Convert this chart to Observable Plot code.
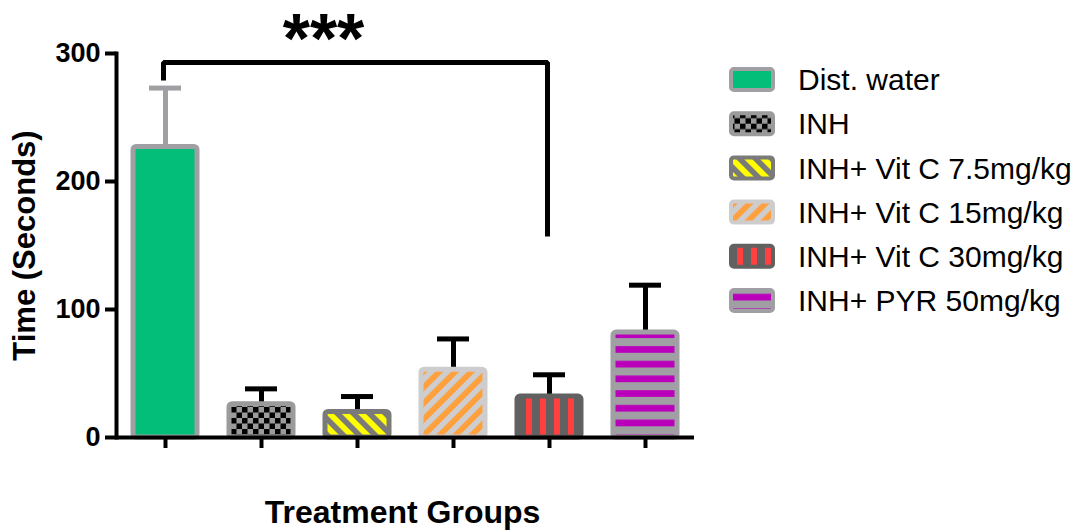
<!DOCTYPE html>
<html>
<head>
<meta charset="utf-8">
<script src="https://cdn.jsdelivr.net/npm/d3@7"></script>
<script src="https://cdn.jsdelivr.net/npm/@observablehq/plot@0.6"></script>
<style>
  body { margin: 0; background: #fff; }
  #wrap { position: relative; width: 1089px; height: 532px; font-family: "Liberation Sans", Arial, sans-serif; }
  #legend { position: absolute; left: 0; top: 0; pointer-events: none; }
  #defs { position: absolute; width: 0; height: 0; }
</style>
</head>
<body>
<div id="wrap">
  <svg id="defs" width="0" height="0"><defs></defs></svg>
  <div id="chart"></div>
  <svg id="legend" width="1089" height="532"></svg>
</div>
<script>
// Treatment groups and measured times (mean and SEM, seconds)
const groups = [
  "Dist. water",
  "INH",
  "INH+ Vit C 7.5mg/kg",
  "INH+ Vit C 15mg/kg",
  "INH+ Vit C 30mg/kg",
  "INH+ PYR 50mg/kg"
];
const means = [227, 26, 20, 53, 32, 82];
const sems = [46, 12, 12, 24, 17, 37];
const yTicks = [0, 100, 200, 300];

// Significance bracket between Dist. water and INH+ Vit C 30mg/kg
const significance = "***";
const bracket = [
  {group: groups[0], y: 279},
  {group: groups[0], y: 293},
  {group: groups[4], y: 293},
  {group: groups[4], y: 157}
];

// Fill patterns for each group
const looks = [
  {id: "pat-water", kind: "solid",   base: "#02BE78", ink: null,      border: "#A0A0A4", err: "#A0A0A4"},
  {id: "pat-inh",   kind: "checker", base: "#9B9B9B", ink: "#000000", border: "#9B9B9B", err: "#000000"},
  {id: "pat-c75",   kind: "back",    base: "#FFFF00", ink: "#7A7A7A", border: "#7A7A7A", err: "#000000"},
  {id: "pat-c15",   kind: "fwd",     base: "#FFA03F", ink: "#CDCDCD", border: "#CDCDCD", err: "#000000"},
  {id: "pat-c30",   kind: "vert",    base: "#FF4040", ink: "#616161", border: "#616161", err: "#000000"},
  {id: "pat-pyr",   kind: "horiz",   base: "#BB00BB", ink: "#A0A0A4", border: "#A0A0A4", err: "#000000"}
];

const defs = d3.select("#defs defs");
for (const s of looks) {
  let p;
  if (s.kind === "solid") {
    p = defs.append("pattern").attr("id", s.id).attr("patternUnits", "userSpaceOnUse")
      .attr("width", 10).attr("height", 10);
    p.append("rect").attr("width", 10).attr("height", 10).attr("fill", s.base);
  } else if (s.kind === "checker") {
    p = defs.append("pattern").attr("id", s.id).attr("patternUnits", "userSpaceOnUse")
      .attr("width", 11).attr("height", 11);
    p.append("rect").attr("width", 11).attr("height", 11).attr("fill", s.base);
    p.append("rect").attr("width", 5.5).attr("height", 5.5).attr("fill", s.ink);
    p.append("rect").attr("x", 5.5).attr("y", 5.5).attr("width", 5.5).attr("height", 5.5).attr("fill", s.ink);
  } else if (s.kind === "back" || s.kind === "fwd") {
    p = defs.append("pattern").attr("id", s.id).attr("patternUnits", "userSpaceOnUse")
      .attr("width", 11.3).attr("height", 11.3)
      .attr("patternTransform", s.kind === "back" ? "rotate(-45)" : "rotate(45)");
    p.append("rect").attr("width", 11.3).attr("height", 11.3).attr("fill", s.base);
    p.append("rect").attr("width", 5.6).attr("height", 11.3).attr("fill", s.ink);
  } else if (s.kind === "vert") {
    p = defs.append("pattern").attr("id", s.id).attr("patternUnits", "userSpaceOnUse")
      .attr("width", 14).attr("height", 10);
    p.append("rect").attr("width", 14).attr("height", 10).attr("fill", s.base);
    p.append("rect").attr("width", 8).attr("height", 10).attr("fill", s.ink);
  } else {
    p = defs.append("pattern").attr("id", s.id).attr("patternUnits", "userSpaceOnUse")
      .attr("width", 10).attr("height", 14.7);
    p.append("rect").attr("width", 10).attr("height", 14.7).attr("fill", s.base);
    p.append("rect").attr("width", 10).attr("height", 8).attr("fill", s.ink);
  }
}

const rows = groups.map((group, i) => ({group, mean: means[i], sem: sems[i], i}));
const font = "Liberation Sans, Arial, sans-serif";

const chart = Plot.plot({
  width: 1089,
  height: 532,
  marginLeft: 116,
  marginRight: 395,
  marginTop: 53,
  marginBottom: 95,
  style: {fontFamily: font, color: "#000", background: "#fff", overflow: "visible"},
  x: {domain: groups, paddingInner: 0.335, paddingOuter: 0.168, axis: null},
  y: {domain: [0, 300], axis: null},
  color: {type: "identity"},
  marks: [
    // error bars (upper SEM only)
    Plot.ruleX(rows, {x: "group", y1: "mean", y2: d => d.mean + d.sem,
      stroke: d => looks[d.i].err, strokeWidth: 5}),
    Plot.tickY(rows, {x: "group", y: d => d.mean + d.sem,
      stroke: d => looks[d.i].err, strokeWidth: 5, insetLeft: 16, insetRight: 16}),
    // bars
    Plot.barY(rows, {x: "group", y: "mean",
      fill: d => `url(#${looks[d.i].id})`, stroke: d => looks[d.i].border,
      strokeWidth: 5, rx: 3}),
    // axes
    Plot.axisY({ticks: yTicks, tickSize: 11, tickPadding: 5, strokeWidth: 4,
      fontSize: 27, fontWeight: "bold", label: null}),
    Plot.frame({anchor: "left", strokeWidth: 4}),
    Plot.axisX({tickSize: 11, strokeWidth: 4, tickFormat: () => "", label: null}),
    Plot.ruleY([0], {strokeWidth: 4}),
    // axis titles
    Plot.text(["Treatment Groups"], {frameAnchor: "bottom", textAnchor: "middle",
      lineAnchor: "middle", dx: -3, dy: 75, fontSize: 32, fontWeight: "bold"}),
    Plot.text(["Time (Seconds)"], {frameAnchor: "left", textAnchor: "middle",
      lineAnchor: "middle", rotate: -90, dx: -91, fontSize: 31, fontWeight: "bold"}),
    // significance bracket
    Plot.line(bracket, {x: "group", y: "y", stroke: "#000", strokeWidth: 5,
      strokeLinejoin: "miter", strokeLinecap: "butt", dx: -2}),
    Plot.text([significance], {x: () => groups[2], frameAnchor: "top", dx: -34, dy: -13,
      lineAnchor: "middle", fontSize: 70, fontWeight: "bold"})
  ]
});
document.getElementById("chart").append(chart);

// legend
const legend = d3.select("#legend");
const legendTop = 79.5, legendStep = 44.2;
const item = legend.selectAll("g").data(rows).join("g")
  .attr("transform", d => `translate(729,${legendTop + d.i * legendStep})`);
item.append("rect")
  .attr("x", 2).attr("y", -10.5).attr("width", 42).attr("height", 21).attr("rx", 3)
  .attr("fill", d => `url(#${looks[d.i].id})`)
  .attr("stroke", d => looks[d.i].border).attr("stroke-width", 4);
item.append("text")
  .attr("x", 69).attr("y", 10.75)
  .attr("font-family", font).attr("font-size", 30).attr("fill", "#000")
  .text(d => d.group);
</script>
</body>
</html>
